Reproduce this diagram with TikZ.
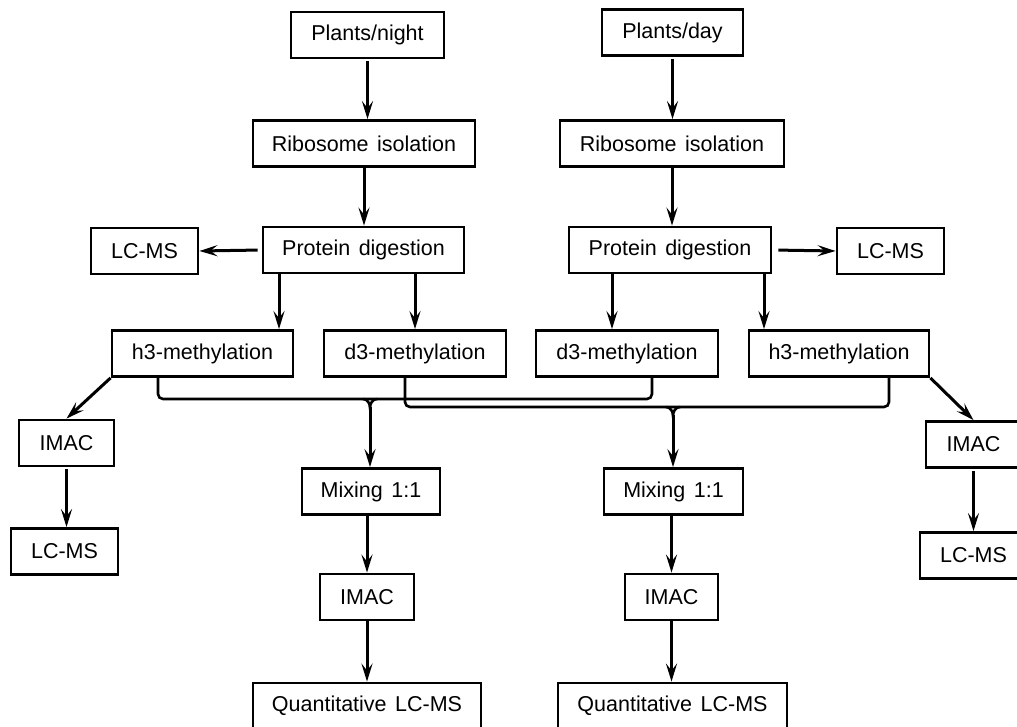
\documentclass[tikz,border=0pt]{standalone}
\usepackage{fontspec}
\setmainfont{Liberation Sans}
\usetikzlibrary{arrows.meta,calc}
\newcommand{\widespace}{\spaceskip=8.5pt plus 2pt\relax}
\begin{document}
\begin{tikzpicture}[x=1pt,y=-1pt,
  box/.style={draw=black,line width=2.8pt,inner sep=0pt,minimum height=46pt,
    font=\fontsize{21.5}{25}\selectfont, execute at begin node=\widespace},
  arr/.style={line width=3pt,-{Stealth[length=18pt,width=11pt,inset=7pt]}},
  brace/.style={line width=2.6pt,rounded corners=5pt}]
\useasboundingbox (0,0) rectangle (1017,727);
\clip (0,0) rectangle (1017,727);
% left branch
\node[box,minimum width=153pt] (pn) at (367.5,35) {Plants/night};
\node[box,minimum width=222pt] (rl) at (364,143.5) {Ribosome isolation};
\node[box,minimum width=201pt] (pl) at (363.5,250) {Protein digestion};
\node[box,minimum width=107pt] (lcl) at (144.5,251) {LC-MS};
\node[box,minimum width=181pt] (h3l) at (202.5,353.5) {h3-methylation};
\node[box,minimum width=182pt] (d3l) at (415,353.5) {d3-methylation};
\node[box,minimum width=95pt] (imacl) at (66.5,443) {IMAC};
\node[box,minimum width=107pt] (lcbl) at (64.5,551.5) {LC-MS};
\node[box,minimum width=138pt] (mixl) at (371,491.5) {Mixing 1:1};
\node[box,minimum width=94pt] (imacml) at (367,597) {IMAC};
\node[box,minimum width=228pt] (ql) at (367,706) {Quantitative LC-MS};
% right branch
\node[box,minimum width=141pt] (pd) at (672.5,32.5) {Plants/day};
\node[box,minimum width=224pt] (rr) at (672,143.5) {Ribosome isolation};
\node[box,minimum width=202pt] (pr) at (670,250) {Protein digestion};
\node[box,minimum width=107pt] (lcr) at (890.5,251) {LC-MS};
\node[box,minimum width=182pt] (d3r) at (627,353.5) {d3-methylation};
\node[box,minimum width=180pt] (h3r) at (839,353.5) {h3-methylation};
\node[box,minimum width=95pt] (imacr) at (973.5,444.5) {IMAC};
\node[box,minimum width=107pt] (lcbr) at (973.5,555.5) {LC-MS};
\node[box,minimum width=139pt] (mixr) at (673.5,491.5) {Mixing 1:1};
\node[box,minimum width=93pt] (imacmr) at (671.5,597) {IMAC};
\node[box,minimum width=229pt] (qr) at (672.5,706) {Quantitative LC-MS};
% vertical chains
\draw[arr,shorten <=2pt] (pn.south) -- (pn.south |- rl.north);
\draw[arr] (rl.south) -- (rl.south |- pl.north);
\draw[arr,shorten <=2pt] (pd.south) -- (pd.south |- rr.north);
\draw[arr] (rr.south) -- (rr.south |- pr.north);
\draw[arr,shorten <=4pt] (pl.west) -- (lcl.east);
\draw[arr,shorten <=6pt] (pr.east) -- (lcr.west);
\coordinate (a1) at (279,0);
\coordinate (a2) at (415,0);
\coordinate (a3) at (612,0);
\coordinate (a4) at (764,0);
\draw[arr] (a1 |- pl.south) -- (a1 |- h3l.north);
\draw[arr] (a2 |- pl.south) -- (a2 |- d3l.north);
\draw[arr] (a3 |- pr.south) -- (a3 |- d3r.north);
\draw[arr] (a4 |- pr.south) -- (a4 |- h3r.north);
\draw[arr] (h3l.south west) -- (imacl.north);
\draw[arr] (h3r.south east) -- (imacr.north);
\draw[arr,shorten <=2pt] (imacl.south) -- (imacl.south |- lcbl.north);
\draw[arr,shorten <=2pt] (imacr.south) -- (imacr.south |- lcbr.north);
% braces
\coordinate (b1) at (370,399);
\coordinate (b2) at (673,407);
\draw[brace] ([xshift=-44.5pt]h3l.south) |- (b1) -| ([xshift=25pt]d3r.south);
\draw[brace] ([xshift=-10pt]d3l.south) |- (b2) -| ([xshift=50pt]h3r.south);
\draw[line width=2.6pt] ([xshift=-7pt]b1) to[out=0,in=90] ([yshift=-9pt]b1) to[out=90,in=180] ([xshift=7pt]b1);
\draw[line width=2.6pt] ([xshift=-7pt]b2) to[out=0,in=90] ([yshift=-9pt]b2) to[out=90,in=180] ([xshift=7pt]b2);
\draw[arr] ([yshift=-8pt]b1) -- (b1 |- mixl.north);
\draw[arr] ([yshift=-8pt]b2) -- (b2 |- mixr.north);
\draw[arr] (mixl.south -| imacml.north) -- (imacml.north);
\draw[arr] (imacml.south) -- (imacml.south |- ql.north);
\draw[arr] (mixr.south -| imacmr.north) -- (imacmr.north);
\draw[arr] (imacmr.south) -- (imacmr.south |- qr.north);
\end{tikzpicture}
\end{document}
